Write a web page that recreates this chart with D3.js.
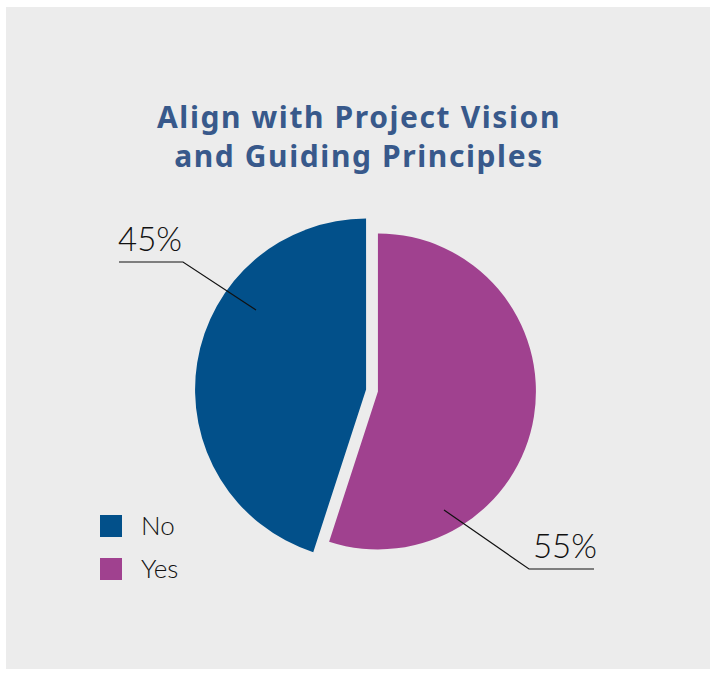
<!DOCTYPE html>
<html lang="en">
<head>
    <meta charset="UTF-8">
    <title>Align with Project Vision and Guiding Principles</title>
    <script src="https://d3js.org/d3.v7.min.js"></script>
    <style>
        body { margin: 0; background: #ffffff; }
        .title { font-family: "Noto Sans", sans-serif; font-weight: 700; fill: #38598b; letter-spacing: 1.6px; }
        .pct, .legend-label { font-family: "Lato", sans-serif; font-weight: 300; fill: #111; }
    </style>
</head>
<body>
    <svg width="714" height="675"></svg>
    <script>
        // data
        const categories = ["No", "Yes"];
        const values = [45, 55];
        const labels = ["45%", "55%"];
        const titleLines = ["Align with Project Vision", "and Guiding Principles"];

        const colors = d3.scaleOrdinal().domain(categories).range(["#02508a", "#a0418f"]);

        const svg = d3.select("svg");

        // grey panel
        svg.append("rect")
            .attr("x", 6).attr("y", 7)
            .attr("width", 704).attr("height", 662)
            .attr("fill", "#ececec");

        // title
        svg.append("g").selectAll("text")
            .data(titleLines)
            .enter().append("text")
            .attr("class", "title")
            .attr("x", 359)
            .attr("y", (d, i) => 128 + i * 39)
            .attr("text-anchor", "middle")
            .style("font-size", "30px")
            .text(d => d);

        // pie, starts at 12 o'clock going counter clockwise for "No"
        const cx = 372, cy = 390.5;
        const pie = d3.pie().sort(null)
            .startAngle(0).endAngle(-2 * Math.PI)
            .value(d => d.value);
        const data = categories.map((c, i) => ({ name: c, value: values[i], label: labels[i] }));
        const arcs = pie(data);
        const radius = { No: 171, Yes: 158 };
        const explode = 6;

        const g = svg.append("g").attr("transform", "translate(" + cx + "," + cy + ")");

        g.selectAll("path")
            .data(arcs)
            .enter().append("path")
            .attr("fill", d => colors(d.data.name))
            .attr("transform", d => {
                const mid = (d.startAngle + d.endAngle) / 2;
                return "translate(" + (Math.sin(mid) * explode) + "," + (-Math.cos(mid) * explode) + ")";
            })
            .attr("d", d => d3.arc().innerRadius(0).outerRadius(radius[d.data.name])(d));

        // leader lines + percentage labels
        const leaders = [
            { pts: [[256, 310], [183, 262], [119, 262]], tx: 118, ty: 251, anchor: "start" },
            { pts: [[444, 510], [529, 569], [594, 569]], tx: 597, ty: 558, anchor: "end" }
        ];
        arcs.forEach((d, i) => {
            svg.append("path")
                .attr("d", d3.line()(leaders[i].pts))
                .attr("fill", "none")
                .attr("stroke", "#111")
                .attr("stroke-width", 1.2);
            svg.append("text")
                .attr("class", "pct")
                .attr("x", leaders[i].tx)
                .attr("y", leaders[i].ty)
                .attr("text-anchor", leaders[i].anchor)
                .style("font-size", "33px")
                .text(d.data.label);
        });

        // legend
        const legend = svg.append("g").selectAll("g")
            .data(categories)
            .enter().append("g")
            .attr("transform", (d, i) => "translate(100," + (515 + i * 43) + ")");
        legend.append("rect")
            .attr("width", 22).attr("height", 22)
            .attr("fill", d => colors(d));
        legend.append("text")
            .attr("class", "legend-label")
            .attr("x", 41).attr("y", 20)
            .style("font-size", "26px")
            .text(d => d);
    </script>
</body>
</html>
